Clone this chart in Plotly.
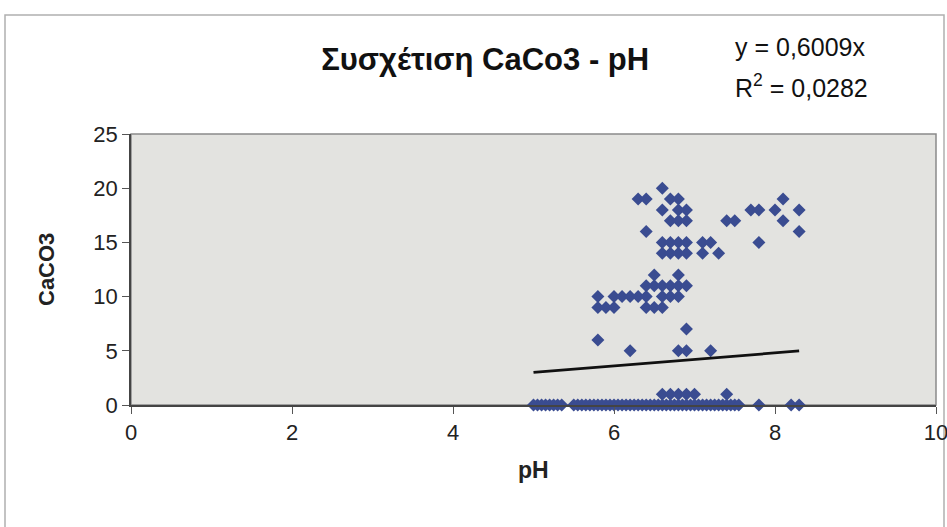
import plotly.graph_objects as go

# ---- data ----
ph_values = [
    # CaCO3 = 20
    6.6,
    # 19
    6.3, 6.4, 6.7, 6.8, 8.1,
    # 18
    6.6, 6.8, 6.9, 7.7, 7.8, 8.0, 8.3,
    # 17
    6.7, 6.8, 6.9, 7.4, 7.5, 8.1,
    # 16
    6.4, 8.3,
    # 15
    6.6, 6.7, 6.8, 6.9, 7.1, 7.2, 7.8,
    # 14
    6.6, 6.7, 6.8, 6.9, 7.1, 7.3,
    # 12
    6.5, 6.8,
    # 11
    6.4, 6.5, 6.6, 6.7, 6.8, 6.9,
    # 10
    5.8, 6.0, 6.1, 6.2, 6.3, 6.4, 6.6, 6.7, 6.8,
    # 9
    5.8, 5.9, 6.0, 6.4, 6.5, 6.6,
    # 7
    6.9,
    # 6
    5.8,
    # 5
    6.2, 6.8, 6.9, 7.2,
    # 1
    6.6, 6.7, 6.8, 6.9, 7.0, 7.4,
    # 0
    5.0, 5.05, 5.1, 5.15, 5.2, 5.25, 5.3, 5.35,
    5.5, 5.55, 5.6, 5.65, 5.7, 5.75, 5.8, 5.85, 5.9, 5.95,
    6.0, 6.05, 6.1, 6.15, 6.2, 6.25, 6.3, 6.35, 6.4, 6.45,
    6.5, 6.55, 6.6, 6.65, 6.7, 6.75, 6.8, 6.85, 6.9, 6.95,
    7.0, 7.05, 7.1, 7.15, 7.2, 7.25, 7.3, 7.35, 7.4, 7.45,
    7.5, 7.55, 7.8, 8.2, 8.3,
]
caco3_values = (
    [20]
    + [19] * 5
    + [18] * 7
    + [17] * 6
    + [16] * 2
    + [15] * 7
    + [14] * 6
    + [12] * 2
    + [11] * 6
    + [10] * 9
    + [9] * 6
    + [7]
    + [6]
    + [5] * 4
    + [1] * 6
    + [0] * 53
)

slope = 0.6009
r_squared = "0,0282"
x_ticks = [0, 2, 4, 6, 8, 10]
y_ticks = [0, 5, 10, 15, 20, 25]

title_text = "Συσχέτιση CaCo3 - pH"
x_title = "pH"
y_title = "CaCO3"

trend_x = [min(ph_values), max(ph_values)]
trend_y = [slope * v for v in trend_x]

FONT = "Liberation Sans, Arial, sans-serif"
MARKER = "#3a4c91"

fig = go.Figure()
fig.add_trace(go.Scatter(
    x=ph_values, y=caco3_values, mode="markers",
    marker=dict(symbol="diamond", size=10, color=MARKER, line=dict(width=0)),
    cliponaxis=False,
    showlegend=False, hoverinfo="x+y",
))
fig.add_trace(go.Scatter(
    x=trend_x, y=trend_y, mode="lines",
    line=dict(color="#111111", width=2.8),
    showlegend=False, hoverinfo="skip",
))

axis_common = dict(
    ticks="outside", ticklen=7, tickcolor="#555555",
    showgrid=False, zeroline=False,
    showline=True, linecolor="#444444", linewidth=1.5,
    tickfont=dict(size=22, color="#222222"),
    ticklabeloverflow="allow", automargin=False,
    fixedrange=True,
)

fig.update_layout(
    width=947, height=527,
    margin=dict(l=131, r=11, t=134, b=122, autoexpand=False),
    paper_bgcolor="white",
    plot_bgcolor="#e3e3e0",
    font=dict(family=FONT, size=22, color="#222222"),
    title=dict(
        text="<b>" + title_text + "</b>",
        font=dict(family=FONT, size=31, color="#111111"),
        x=0.44, xref="paper", xanchor="center",
        y=1 - 59 / 527, yref="container", yanchor="middle",
    ),
    xaxis=dict(range=[0, 10], tickvals=x_ticks, **axis_common),
    yaxis=dict(range=[0, 25], tickvals=y_ticks, **axis_common),
    shapes=[
        # plot area border
        dict(type="rect", xref="paper", yref="paper", x0=0, y0=0, x1=1, y1=1,
             line=dict(color="#8a8a8a", width=1.5), layer="below"),
        # outer chart frame
        dict(type="rect", xref="paper", yref="paper",
             x0=(5 - 131) / 805, x1=(944 - 131) / 805,
             y0=(405 - 540) / 271, y1=(405 - 15) / 271,
             line=dict(color="#b0b0b0", width=1.5), layer="below"),
    ],
    annotations=[
        dict(text="y = 0,6009x", xref="paper", yref="paper",
             x=(733 - 131) / 805, y=(405 - 47) / 271, xanchor="left", yanchor="middle",
             showarrow=False, font=dict(size=25, color="#111111")),
        dict(text="R<sup>2</sup> = " + r_squared, xref="paper", yref="paper",
             x=(733 - 131) / 805, y=(405 - 86) / 271, xanchor="left", yanchor="middle",
             showarrow=False, font=dict(size=25, color="#111111")),
        dict(text="<b>" + x_title + "</b>", xref="paper", yref="paper",
             x=(533 - 131) / 805, y=(405 - 470) / 271, xanchor="center", yanchor="middle",
             showarrow=False, font=dict(size=23, color="#222222")),
        dict(text="<b>" + y_title + "</b>", xref="paper", yref="paper",
             x=(46 - 131) / 805, y=(405 - 270) / 271, xanchor="center", yanchor="middle",
             textangle=-90, showarrow=False, font=dict(size=22, color="#222222")),
    ],
)

fig.write_html(
    "out.html",
    config={"displayModeBar": False},
    post_script="document.body.style.margin='0';",
)
